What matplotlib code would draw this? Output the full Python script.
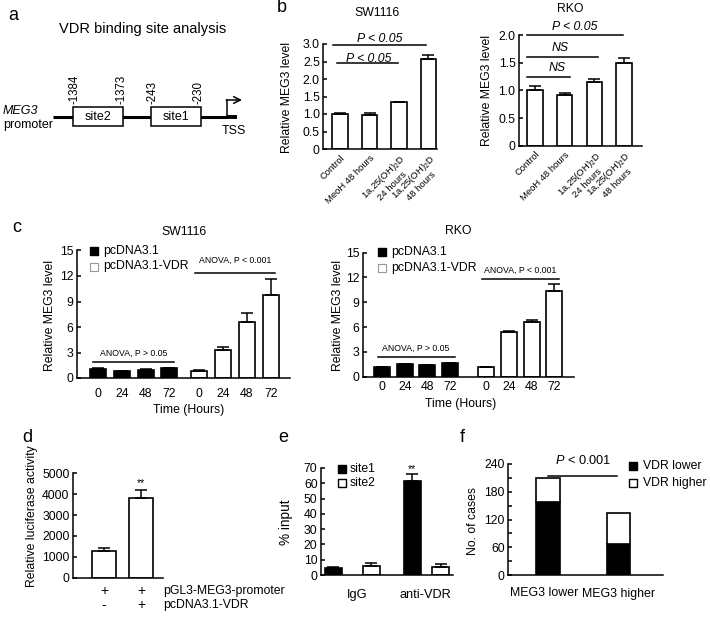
import matplotlib
matplotlib.use("Agg")
import matplotlib.pyplot as plt
import matplotlib.transforms as mtransforms
from matplotlib.patches import Rectangle
import numpy as np

plt.rcParams.update({
    "font.family": ["Liberation Sans", "DejaVu Sans"],
    "mathtext.fontset": "custom",
    "mathtext.rm": "Liberation Sans",
    "mathtext.it": "Liberation Sans:italic",
    "mathtext.default": "regular",
    "axes.linewidth": 1.1,
})

# ---- data ----
b_labels = ["Control", "MeoH 48 hours", "1a,25(OH)$_2$D\n24 hours", "1a,25(OH)$_2$D\n48 hours"]
b_sw_mean = [1.0, 0.97, 1.33, 2.57]
b_sw_err = [0.02, 0.07, 0.01, 0.11]
b_rko_mean = [1.0, 0.915, 1.15, 1.5]
b_rko_err = [0.08, 0.035, 0.05, 0.09]

c_hours = ["0", "24", "48", "72"]
c_sw_ctrl = [1.1, 0.83, 0.98, 1.15]
c_sw_ctrl_err = [0.08, 0.05, 0.06, 0.08]
c_sw_vdr = [0.83, 3.3, 6.6, 9.8]
c_sw_vdr_err = [0.06, 0.4, 1.05, 1.9]
c_rko_ctrl = [1.13, 1.5, 1.37, 1.6]
c_rko_ctrl_err = [0.05, 0.08, 0.06, 0.1]
c_rko_vdr = [1.13, 5.35, 6.65, 10.4]
c_rko_vdr_err = [0.05, 0.18, 0.15, 0.85]

d_mean = [1280, 3830]
d_err = [160, 380]
d_promoter = ["+", "+"]
d_vdr = ["-", "+"]

e_groups = ["IgG", "anti-VDR"]
e_site1 = [4.4, 61.5]
e_site1_err = [0.6, 4.3]
e_site2 = [5.9, 5.0]
e_site2_err = [1.7, 2.0]

f_groups = ["MEG3 lower", "MEG3 higher"]
f_vdr_lower = [158, 68]
f_vdr_higher = [51, 67]

W, H = 710, 619
fig = plt.figure(figsize=(W / 100, H / 100), dpi=100)

# overlay in pixel coordinates for annotations / schematic
ov = fig.add_axes([0, 0, 1, 1])
ov.set_xlim(0, W)
ov.set_ylim(H, 0)
ov.axis("off")


def px_axes(left, right, top, bottom):
    return fig.add_axes([left / W, 1 - bottom / H, (right - left) / W, (bottom - top) / H])


def style_axes(ax, labelsize=8.8):
    ax.patch.set_alpha(0)
    for side in ("top", "right"):
        ax.spines[side].set_visible(False)
    ax.tick_params(axis="y", direction="in", length=3, width=1.1, pad=2.5, labelsize=labelsize)
    ax.tick_params(axis="x", length=0, labelsize=labelsize)


def ylabel_px(ax, text, x, y, size=8.8):
    ax.set_ylabel(text, fontsize=size, va="center")
    ax.yaxis.set_label_coords(x, y, transform=ov.transData)


def xlabel_px(ax, text, x, y, size=8.8):
    ax.set_xlabel(text, fontsize=size, va="center")
    ax.xaxis.set_label_coords(x, y, transform=ov.transData)


def sig_line(ax, x0, x1, y, text, ty, tx, size=8.8, style="italic", lw=1.1):
    ax.plot([x0, x1], [y, y], color="black", lw=lw, clip_on=False)
    ax.text(tx, ty, text, ha="center", va="center", fontsize=size, style=style, clip_on=False)


def err_bars(ax, x, mean, err, zorder=3):
    ax.errorbar(x, mean, yerr=[np.zeros(len(err)), err], fmt="none", ecolor="black",
                elinewidth=1.1, capsize=4.5, capthick=1.1, zorder=zorder)


# ---- panel labels ----
for lab, (x, y) in {"a": (13, 15), "b": (282, 8), "c": (17, 228),
                    "d": (27, 438), "e": (283, 438), "f": (462, 438)}.items():
    ov.text(x, y, lab, fontsize=13, ha="center", va="center")

# ---- panel a: schematic ----
ov.text(143, 29, "VDR binding site analysis", fontsize=10.5, ha="center", va="center")
ov.plot([53, 227], [116.7, 116.7], color="black", lw=2.2, solid_capstyle="butt")
ov.plot([227, 237], [116.7, 116.7], color="black", lw=2.8, solid_capstyle="butt")
for x0, x1, name in [(72.7, 123.3, "site2"), (150.7, 201, "site1")]:
    ov.add_patch(Rectangle((x0, 106.7), x1 - x0, 19.3, facecolor="white", edgecolor="black", lw=1.1, zorder=3))
    ov.text((x0 + x1) / 2, 116.5, name, fontsize=9, ha="center", va="center", zorder=4)
for x, num in [(75, "-1384"), (121.7, "-1373"), (152.7, "-243"), (198.3, "-230")]:
    ov.text(x, 104, num, fontsize=8.3, rotation=90, ha="center", va="bottom")
ov.plot([226.7, 226.7], [116.7, 100], color="black", lw=1.1)
ov.annotate("", xy=(242, 100), xytext=(226.2, 100),
            arrowprops=dict(arrowstyle="->", lw=1.1, color="black", shrinkA=0, shrinkB=0, mutation_scale=12))
ov.text(234, 131.5, "TSS", fontsize=9, ha="center", va="center")
ov.text(3, 111.5, "MEG3", fontsize=9, style="italic", ha="left", va="center")
ov.text(3, 125, "promoter", fontsize=9, ha="left", va="center")

# ---- panel b: SW1116 ----
ax = px_axes(323.3, 437, 44, 149)
style_axes(ax)
bx = np.arange(len(b_labels))
ax.bar(bx, b_sw_mean, width=0.54, color="white", edgecolor="black", lw=1.2, zorder=2)
err_bars(ax, bx, b_sw_mean, b_sw_err)
ax.set_xlim(-0.57, 3.29)
ax.set_ylim(0, 3.0)
ax.set_yticks([0, 0.5, 1.0, 1.5, 2.0, 2.5, 3.0], ["0", "0.5", "1.0", "1.5", "2.0", "2.5", "3.0"])
ax.set_xticks(bx, b_labels, rotation=45, ha="right", va="top", rotation_mode="anchor",
              fontsize=6.8, multialignment="center")
ax.tick_params(axis="x", pad=3)
sig_line(ax, -0.24, 2.9, 2.97, "P < 0.05", 3.13, 1.35)
sig_line(ax, -0.12, 1.96, 2.45, "P < 0.05", 2.57, 0.97)
ylabel_px(ax, "Relative MEG3 level", 287, 97)
ov.text(377, 13, "SW1116", fontsize=8.8, ha="center", va="center")

# ---- panel b: RKO ----
ax = px_axes(519, 642, 35, 145.7)
style_axes(ax)
ax.bar(bx, b_rko_mean, width=0.52, color="white", edgecolor="black", lw=1.2, zorder=2)
err_bars(ax, bx, b_rko_mean, b_rko_err)
ax.set_xlim(-0.54, 3.6)
ax.set_ylim(0, 2.0)
ax.set_yticks([0, 0.5, 1.0, 1.5, 2.0], ["0", "0.5", "1.0", "1.5", "2.0"])
ax.set_xticks(bx, b_labels, rotation=45, ha="right", va="top", rotation_mode="anchor",
              fontsize=6.8, multialignment="center")
ax.tick_params(axis="x", pad=3)
sig_line(ax, -0.27, 2.96, 2.0, "P < 0.05", 2.15, 1.35)
sig_line(ax, -0.27, 2.12, 1.6, "NS", 1.76, 0.84)
sig_line(ax, -0.27, 1.18, 1.25, "NS", 1.40, 0.73)
ylabel_px(ax, "Relative MEG3 level", 487, 90)
ov.text(570, 9, "RKO", fontsize=8.8, ha="center", va="center")


# ---- panel c ----
def time_panel(left, right, top15, bottom, ctrl, ctrl_err, vdr, vdr_err, vdr_start, unit, title, tpos,
               ylab_x, xlab_pos, tick_pad, legend_xy, anova_lo, anova_hi):
    ax = px_axes(left, right, top15, bottom)
    style_axes(ax)
    xc = np.arange(4)
    xv = vdr_start + np.arange(4)
    ax.bar(xc, ctrl, width=16 / unit, color="black", edgecolor="black", lw=1.2, zorder=2)
    err_bars(ax, xc, ctrl, ctrl_err)
    ax.bar(xv, vdr, width=16 / unit, color="white", edgecolor="black", lw=1.2, zorder=2)
    err_bars(ax, xv, vdr, vdr_err)
    ax.set_ylim(0, 15)
    ax.set_yticks([0, 3, 6, 9, 12, 15])
    ax.set_xticks(np.concatenate([xc, xv]), c_hours + c_hours)
    ax.tick_params(axis="x", pad=tick_pad, labelsize=8.8)
    sig_line(ax, xc[0] - 0.2, xc[-1] + 0.2, anova_lo[0], "ANOVA, P > 0.05", anova_lo[1], 1.5,
             size=6.3, style="normal")
    sig_line(ax, xv[0] - 0.2, xv[-1] + 0.2, anova_hi[0], "ANOVA, P < 0.001", anova_hi[1], xv.mean(),
             size=6.3, style="normal")
    ylabel_px(ax, "Relative MEG3 level", ylab_x, 315)
    xlabel_px(ax, "Time (Hours)", *xlab_pos)
    ov.text(tpos[0], tpos[1], title, fontsize=8.8, ha="center", va="center")
    lx, ly = legend_xy
    ov.scatter([lx], [ly], marker="s", s=28, color="black", zorder=5)
    ov.scatter([lx], [ly + 15.5], marker="s", s=28, facecolor="white", edgecolor="#999999", lw=0.8, zorder=5)
    ov.text(lx + 9, ly, "pcDNA3.1", fontsize=8.8, ha="left", va="center")
    ov.text(lx + 9, ly + 15.5, "pcDNA3.1-VDR", fontsize=8.8, ha="left", va="center")
    return ax


ax = time_panel(77, 290, 250.5, 378, c_sw_ctrl, c_sw_ctrl_err, c_sw_vdr, c_sw_vdr_err, 4.26, 23.8,
                "SW1116", (184, 232), 50, (189, 410), 7, (94, 251), (1.92, 2.95), (12.4, 13.8))
ax.set_xlim(-0.88, 8.07)

ax = time_panel(363, 574, 252.5, 376.7, c_rko_ctrl, c_rko_ctrl_err, c_rko_vdr, c_rko_vdr_err, 4.6, 22.7,
                "RKO", (458, 231), 338, (461, 404), 3, (382, 252), (2.42, 3.45), (11.76, 12.8))
ax.set_xlim(-0.84, 8.46)

# ---- panel d ----
ax = px_axes(73, 163, 473.3, 577.7)
style_axes(ax)
dx = np.arange(len(d_mean))
ax.bar(dx, d_mean, width=0.65, color="white", edgecolor="black", lw=1.2, zorder=2)
err_bars(ax, dx, d_mean, d_err)
ax.set_xlim(-0.84, 1.59)
ax.set_ylim(0, 5000)
ax.set_yticks([0, 1000, 2000, 3000, 4000, 5000])
ax.set_xticks([])
ax.text(1, 4300, "**", ha="center", va="bottom", fontsize=7.5)
ylabel_px(ax, "Relative luciferase activity", 32, 516)
blend = mtransforms.blended_transform_factory(ax.transData, ov.transData)
for i in dx:
    ax.text(i, 591, d_promoter[i], transform=blend, ha="center", va="center", fontsize=10, clip_on=False)
    ax.text(i, 605, d_vdr[i], transform=blend, ha="center", va="center", fontsize=10, clip_on=False)
ov.text(163, 591, "pGL3-MEG3-promoter", fontsize=8.8, ha="left", va="center")
ov.text(163, 605, "pcDNA3.1-VDR", fontsize=8.8, ha="left", va="center")

# ---- panel e ----
ax = px_axes(321, 453, 468, 575)
style_axes(ax)
e_x1 = np.array([0, 2.08])
e_x2 = np.array([1, 2.84])
ax.bar(e_x1, e_site1, width=0.45, color="black", edgecolor="black", lw=1.2, zorder=2)
err_bars(ax, e_x1, e_site1, e_site1_err)
ax.bar(e_x2, e_site2, width=0.45, color="white", edgecolor="black", lw=1.2, zorder=2)
err_bars(ax, e_x2, e_site2, e_site2_err)
ax.set_xlim(-0.32, 3.16)
ax.set_ylim(0, 70)
ax.set_yticks(np.arange(0, 71, 10))
ax.set_xticks((e_x1 + e_x2) / 2 + np.array([0.13, -0.04]), e_groups, fontsize=9.2)
ax.tick_params(axis="x", pad=10)
ax.text(e_x1[1], 66.2, "**", ha="center", va="bottom", fontsize=7.5)
ylabel_px(ax, "% input", 286, 522, size=9.8)
ov.scatter([342], [469], marker="s", s=30, color="black", zorder=5)
ov.scatter([342], [483], marker="s", s=30, facecolor="white", edgecolor="black", lw=1, zorder=5)
ov.text(350, 469, "site1", fontsize=8.8, ha="left", va="center")
ov.text(350, 483, "site2", fontsize=8.8, ha="left", va="center")

# ---- panel f ----
ax = px_axes(508, 663, 464, 575)
style_axes(ax)
fx = np.arange(len(f_groups))
ax.bar(fx, f_vdr_lower, width=0.33, color="black", edgecolor="black", lw=1.2, zorder=2)
ax.bar(fx, f_vdr_higher, bottom=f_vdr_lower, width=0.33, color="white", edgecolor="black", lw=1.2, zorder=2)
ax.set_xlim(-0.57, 1.64)
ax.set_ylim(0, 240)
ax.set_yticks([0, 60, 120, 180, 240])
ax.set_yticks([30, 90, 150, 210], minor=True)
ax.tick_params(axis="y", which="minor", direction="in", length=3, width=1.1)
ax.set_xticks(fx + np.array([-0.06, 0.0]), f_groups, fontsize=8.9)
ax.tick_params(axis="x", pad=9)
sig_line(ax, 0, 0.99, 213.6, "$\\mathit{P}$ < 0.001", 248.6, 0.5, size=9.2, style="normal")
ylabel_px(ax, "No. of cases", 473, 521)
ov.scatter([633], [466], marker="s", s=30, color="black", zorder=5)
ov.scatter([633], [483], marker="s", s=30, facecolor="white", edgecolor="black", lw=1, zorder=5)
ov.text(643, 466, "VDR lower", fontsize=8.8, ha="left", va="center")
ov.text(643, 483, "VDR higher", fontsize=8.8, ha="left", va="center")

fig.savefig("out.png", dpi=100)
